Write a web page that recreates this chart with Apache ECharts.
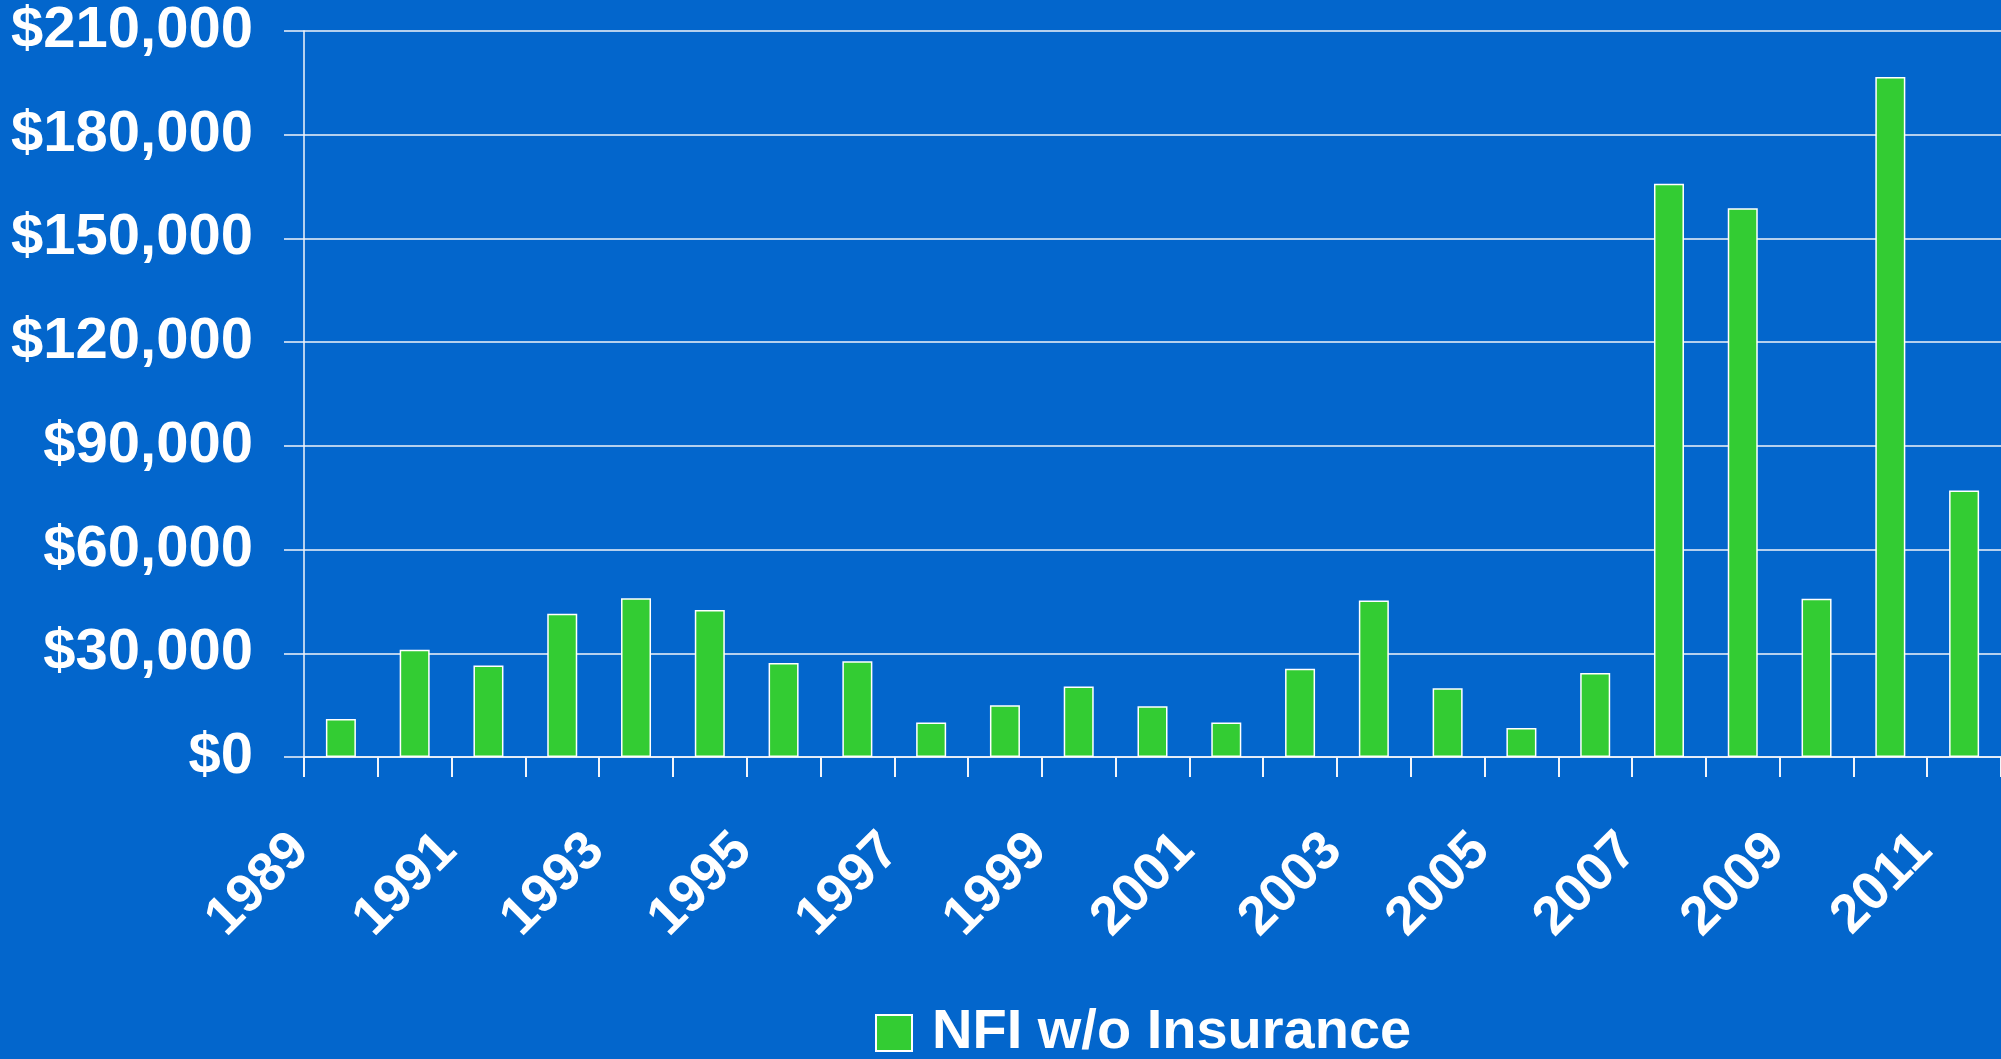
<!DOCTYPE html>
<html>
<head>
<meta charset="utf-8">
<script src="https://cdn.jsdelivr.net/npm/echarts@6/dist/echarts.min.js"></script>
<style>
  html, body { margin: 0; padding: 0; background: #0366CC; }
  #chart { width: 2001px; height: 1059px; }
</style>
</head>
<body>
<div id="chart"></div>
<script>
const years = ['1989','1990','1991','1992','1993','1994','1995','1996','1997','1998','1999','2000',
               '2001','2002','2003','2004','2005','2006','2007','2008','2009','2010','2011'];
const nfiWithoutInsurance = [11000, 31000, 26500, 41400, 45900, 42500, 27200, 27700, 10000, 15000, 20400, 14700,
                             10000, 25500, 45300, 19900, 8400, 24300, 165800, 158700, 45800, 196700, 77100];
const yTicks = [0, 30000, 60000, 90000, 120000, 150000, 180000, 210000];
const seriesName = 'NFI w/o Insurance';

const lineColor = '#f2f5fa';
const fontFamily = '"Liberation Sans", Arial, sans-serif';

function money(v) {
  return '$' + String(v).replace(/\B(?=(\d{3})+(?!\d))/g, ',');
}

const chart = echarts.init(document.getElementById('chart'), null, { renderer: 'canvas' });
chart.setOption({
  backgroundColor: '#0366CC',
  animation: false,
  grid: { left: 304, right: -3, top: 31, bottom: 302, containLabel: false },
  legend: {
    data: [{ name: seriesName, icon: 'rect' }],
    left: 875,
    top: 1005,
    padding: 0,
    itemWidth: 36,
    itemHeight: 36,
    textStyle: {
      color: '#ffffff', fontSize: 56, fontWeight: 'bold', fontFamily: fontFamily,
      padding: [0, 0, 0, 15]
    }
  },
  xAxis: {
    type: 'category',
    data: years,
    boundaryGap: true,
    axisLine: { show: true, lineStyle: { color: lineColor, width: 1.5 } },
    axisTick: { show: true, interval: 0, length: 20, inside: false, lineStyle: { color: lineColor, width: 2 } },
    axisLabel: {
      interval: 1,
      rotate: 45,
      color: '#ffffff',
      fontSize: 54,
      fontWeight: 'bold',
      fontFamily: fontFamily,
      margin: 45,
      align: 'right',
      verticalAlign: 'middle',
      padding: [0, 57, 0, 0]
    },
    splitLine: { show: false }
  },
  yAxis: {
    type: 'value',
    min: yTicks[0],
    max: yTicks[yTicks.length - 1],
    interval: yTicks[1] - yTicks[0],
    axisLine: { show: true, lineStyle: { color: lineColor, width: 1.5 } },
    axisTick: { show: true, length: 20, inside: false, lineStyle: { color: lineColor, width: 1.5 } },
    axisLabel: {
      color: '#ffffff',
      fontSize: 58,
      fontWeight: 'bold',
      fontFamily: fontFamily,
      margin: 51,
      formatter: money
    },
    splitLine: { show: true, lineStyle: { color: lineColor, width: 1.5 } }
  },
  series: [{
    name: seriesName,
    type: 'bar',
    data: nfiWithoutInsurance,
    barWidth: 30,
    itemStyle: { color: '#33CC33', borderColor: '#ffffff', borderWidth: 1.5 }
  }]
});
</script>
</body>
</html>
